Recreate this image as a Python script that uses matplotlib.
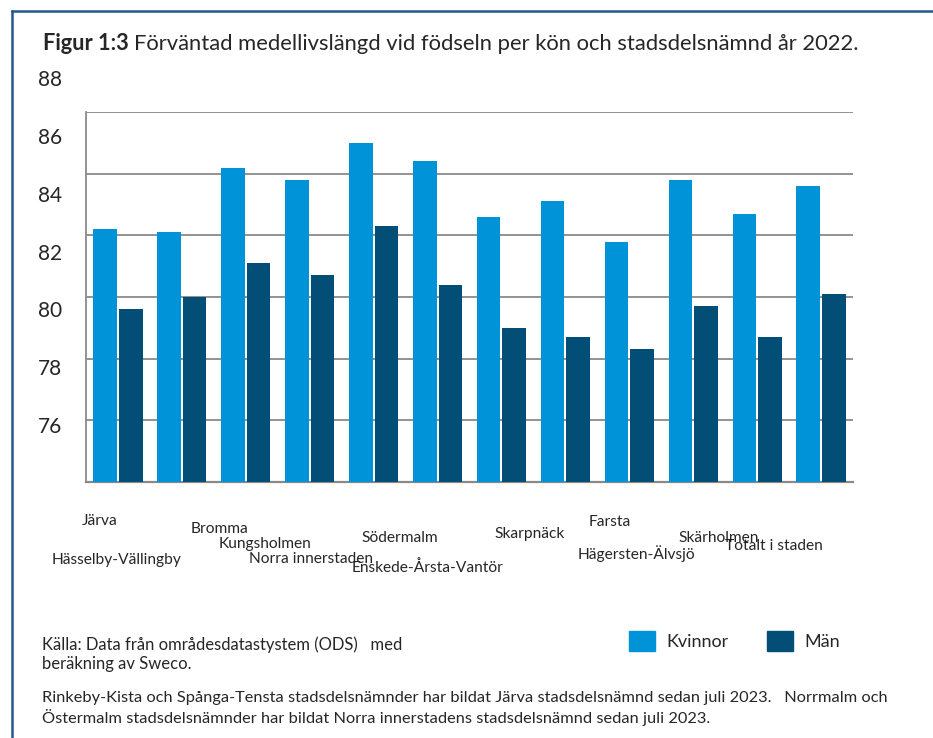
import matplotlib
matplotlib.use("Agg")
import matplotlib.pyplot as plt
from matplotlib.patches import Patch
from matplotlib.lines import Line2D

# data
omraden = ["Järva", "Hässelby-Vällingby", "Bromma", "Kungsholmen", "Norra innerstaden",
           "Södermalm", "Enskede-Årsta-Vantör", "Skarpnäck", "Farsta",
           "Hägersten-Älvsjö", "Skärholmen", "Totalt i staden"]
kvinnor = [82.2, 82.1, 84.2, 83.8, 85.0, 84.4, 82.6, 83.1, 81.8, 83.8, 82.7, 83.6]
man = [79.6, 80.0, 81.1, 80.7, 82.3, 80.4, 79.0, 78.7, 78.3, 79.7, 78.7, 80.1]
ytick_labels = [76, 78, 80, 82, 84, 86, 88]

# layout (pixels in a 933x738 picture)
W, H = 933, 738
label_pos = [(100, 521), (117, 560), (219, 529), (265, 544), (311, 559), (400, 538),
             (428, 568), (530, 534), (610, 522), (636, 554), (719, 538), (774, 546)]

plt.rcParams["font.family"] = ["Lato", "DejaVu Sans"]
txt = "#262626"
blue_k = "#0093d7"
blue_m = "#024e76"

fig = plt.figure(figsize=(W / 100, H / 100), dpi=100)

def fx(x):
    return x / W

def fy(y):
    return 1 - y / H

ax = fig.add_axes([fx(86), fy(482), fx(853) - fx(86), fy(112) - fy(482)])
x = list(range(len(omraden)))
bw = 0.37
ax.bar([i - 0.2 for i in x], kvinnor, width=bw, color=blue_k, zorder=3)
ax.bar([i + 0.2 for i in x], man, width=bw, color=blue_m, zorder=3)
ax.set_xlim(-0.5, len(omraden) - 0.5)
ax.set_ylim(74, 86)
ax.set_yticks([76, 78, 80, 82, 84, 86])
ax.yaxis.grid(True, color="#8a8a8a", linewidth=1.3, zorder=0)
ax.tick_params(left=False, bottom=False, labelleft=False, labelbottom=False)
for s in ["right", "top"]:
    ax.spines[s].set_visible(False)
ax.spines["left"].set_color("#8a8a8a")
ax.spines["left"].set_linewidth(1.3)
ax.spines["bottom"].set_color("#8a8a8a")
ax.spines["bottom"].set_linewidth(1.6)

# y labels sit on their own scale, slightly off the gridlines
lab = fig.add_axes([fx(86), fy(482), 0.001, fy(60) - fy(482)])
lab.set_ylim(76 - (482 - 425) / 28.9, 76 + (425 - 60) / 28.9)
lab.set_yticks(ytick_labels)
lab.set_yticklabels([str(v) for v in ytick_labels], fontsize=15, color=txt)
lab.tick_params(left=False, bottom=False, labelbottom=False, pad=14)
for s in lab.spines.values():
    s.set_visible(False)
lab.patch.set_visible(False)

for name, (px, py) in zip(omraden, label_pos):
    fig.text(fx(px), fy(py), name, ha="center", va="center", fontsize=11.2, color=txt)

# title
fig.text(fx(43), fy(44), "Figur 1:3", fontsize=15.7, fontweight="bold", color=txt,
         va="center", ha="left")
fig.text(fx(134), fy(44), "Förväntad medellivslängd vid födseln per kön och stadsdelsnämnd år 2022.",
         fontsize=15.8, color=txt, va="center", ha="left")

# legend
handles = [Patch(color=blue_k, label="Kvinnor"), Patch(color=blue_m, label="Män")]
fig.legend(handles=handles, loc="center left", bbox_to_anchor=(fx(613), fy(641)),
           ncol=2, frameon=False, fontsize=13, handlelength=1.4, handleheight=1.4,
           columnspacing=2.15, handletextpad=0.65, labelcolor=txt)

# source + notes
fig.text(fx(42), fy(645), "Källa: Data från områdesdatastystem (ODS)   med", fontsize=12,
         color=txt, va="center")
fig.text(fx(42), fy(664), "beräkning av Sweco.", fontsize=12, color=txt, va="center")
fig.text(fx(42), fy(698),
         "Rinkeby-Kista och Spånga-Tensta stadsdelsnämnder har bildat Järva stadsdelsnämnd sedan juli 2023.   Norrmalm och",
         fontsize=11.8, color=txt, va="center")
fig.text(fx(42), fy(718),
         "Östermalm stadsdelsnämnder har bildat Norra innerstadens stadsdelsnämnd sedan juli 2023.",
         fontsize=11.8, color=txt, va="center")

# blue frame along top and left
frame_col = "#24588c"
fig.add_artist(Line2D([fx(12), 1], [fy(11), fy(11)], color=frame_col, lw=1.8,
                      transform=fig.transFigure))
fig.add_artist(Line2D([fx(12), fx(12)], [0, fy(11)], color=frame_col, lw=1.8,
                      transform=fig.transFigure))

fig.savefig("out.png", dpi=100)
